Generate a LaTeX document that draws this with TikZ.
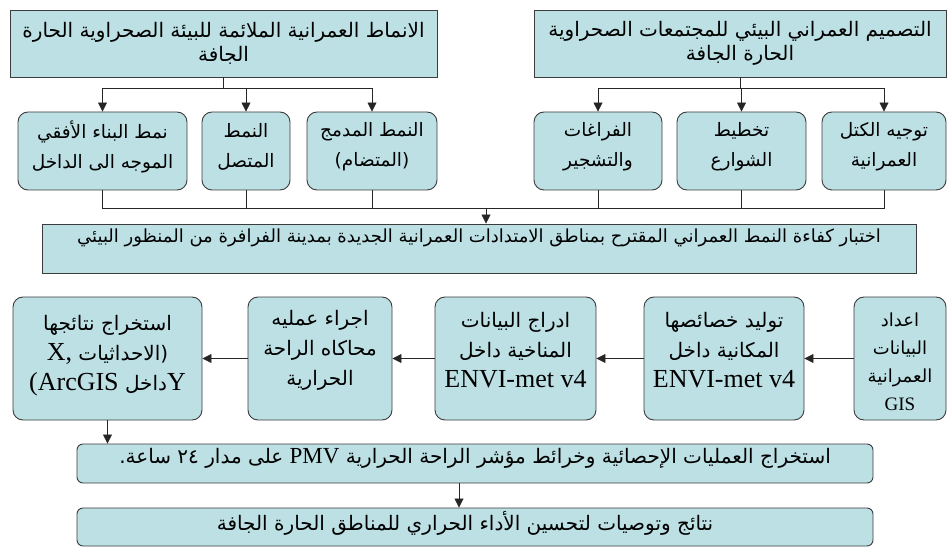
\documentclass[tikz,border=0pt]{standalone}
\usepackage{fontspec}
\setmainfont{Liberation Serif}
\newfontfamily\arfont[Script=Arabic]{DejaVu Sans}
\TeXXeTstate=1
\newcommand\lat[1]{{\fontsize{26}{30}\selectfont\rmfamily #1}}
\usetikzlibrary{arrows.meta,calc}
\definecolor{boxfill}{RGB}{188,224,228}
\definecolor{boxline}{RGB}{60,60,60}
\tikzset{
  sqbox/.style={draw=boxline, fill=boxfill, line width=0.9pt, inner sep=0pt, align=center},
  rbox/.style={sqbox, rounded corners=10pt},
  conn/.style={draw=black!85, line width=0.8pt},
  arr/.style={conn, -{Triangle[length=9pt,width=9pt]}},
  topfont/.style={font=\fontsize{20}{24}\selectfont\arfont},
  midfont/.style={font=\fontsize{18.5}{30}\selectfont\arfont},
  lowfont/.style={font=\fontsize{20}{30}\selectfont\arfont},
}
\begin{document}
\begin{tikzpicture}[x=1pt,y=-1pt]
\useasboundingbox (0,0) rectangle (948,548);
% top boxes
\node[sqbox, topfont, minimum width=427, minimum height=67] (TL) at (223.5,43.5)
  {\beginR الانماط العمرانية الملائمة للبيئة الصحراوية الحارة\endR\\\beginR الجافة\endR};
\node[sqbox, topfont, minimum width=412, minimum height=67] (TR) at (740,43.5)
  {\beginR التصميم العمراني البيئي للمجتمعات الصحراوية\endR\\\beginR الحارة الجافة\endR};
% second row
\node[rbox, minimum width=169, minimum height=78, label={[midfont,align=center,yshift=4pt]center:\beginR نمط البناء الأفقي\endR\\\beginR الموجه الى الداخل\endR}] (b1) at (102.5,151) {};
\node[rbox, minimum width=88, minimum height=78, label={[midfont,align=center,yshift=4pt]center:\beginR النمط\endR\\\beginR المتصل\endR}] (b2) at (246,151) {};
\node[rbox, minimum width=130, minimum height=78, label={[midfont,align=center,yshift=4pt]center:\beginR النمط المدمج\endR\\\beginR (المتضام)\endR}] (b3) at (372,151) {};
\node[rbox, minimum width=128, minimum height=78, label={[midfont,align=center,yshift=4pt]center:\beginR الفراغات\endR\\\beginR والتشجير\endR}] (b4) at (598,151) {};
\node[rbox, minimum width=129, minimum height=78, label={[midfont,align=center,yshift=4pt]center:\beginR تخطيط\endR\\\beginR الشوارع\endR}] (b5) at (741.5,151) {};
\node[rbox, minimum width=124, minimum height=78, label={[midfont,align=center,yshift=4pt]center:\beginR توجيه الكتل\endR\\\beginR العمرانية\endR}] (b6) at (884,151) {};
% middle box
\node[sqbox, minimum width=874, minimum height=49, label={[font=\fontsize{18}{24}\selectfont\arfont,yshift=11pt]center:\beginR اختبار كفاءة النمط العمراني المقترح بمناطق الامتدادات العمرانية الجديدة بمدينة الفرافرة من المنظور البيئي\endR}] (M) at (479,248.5) {};
% bottom row
\node[rbox, minimum width=189, minimum height=123, label={[lowfont,align=center,yshift=3pt]center:\beginR استخراج نتائجها\endR\\\lat{X,}~\beginR (الاحداثيات\endR\\\lat{(ArcGIS}~\beginR داخل\endR\lat{Y}}] (A) at (107.5,358.5) {};
\node[rbox, minimum width=144, minimum height=123, label={[lowfont,align=center,yshift=8pt]center:\beginR اجراء عمليه\endR\\\beginR محاكاه الراحة\endR\\\beginR الحرارية\endR}] (B) at (320,358.5) {};
\node[rbox, minimum width=161, minimum height=123, label={[lowfont,align=center,yshift=8pt]center:\beginR ادراج البيانات\endR\\\beginR المناخية داخل\endR\\\lat{ENVI-met v4}}] (C) at (515.5,358.5) {};
\node[rbox, minimum width=160, minimum height=123, label={[lowfont,align=center,yshift=8pt]center:\beginR توليد خصائصها\endR\\\beginR المكانية داخل\endR\\\lat{ENVI-met v4}}] (D) at (724,358.5) {};
\node[rbox, minimum width=92, minimum height=123, label={[font=\fontsize{18}{28}\selectfont\arfont,align=center,yshift=-3pt]center:\beginR اعداد\endR\\\beginR البيانات\endR\\\beginR العمرانية\endR\\{\fontsize{19}{28}\selectfont\rmfamily GIS}}] (E) at (900,358.5) {};
% PMV and final
\node[sqbox, rounded corners=6pt, minimum width=796, minimum height=39, label={[font=\fontsize{20}{24}\selectfont\arfont,yshift=5pt]center:\beginR استخراج العمليات الإحصائية وخرائط مؤشر الراحة الحرارية {\fontsize{23}{24}\selectfont\rmfamily PMV} على مدار  ٢٤ ساعة.\endR}] (P) at (475,463.5) {};
\node[sqbox, rounded corners=6pt, minimum width=796, minimum height=38, label={[font=\fontsize{20}{24}\selectfont\arfont,yshift=4pt,xshift=-10pt]center:\beginR نتائج وتوصيات لتحسين الأداء الحراري للمناطق الحارة الجافة\endR}] (F) at (475,527) {};
% connectors top
\draw[arr] (TL.south) -- ++(0,11) -| (b1.north);
\draw[arr] (TL.south) -- ++(0,11) -| (b2.north);
\draw[arr] (TL.south) -- ++(0,11) -| (b3.north);
\draw[arr] (TR.south) -- ++(0,11) -| (b4.north);
\draw[arr] (TR.south) -- ++(0,11) -| (b5.north);
\draw[arr] (TR.south) -- ++(0,11) -| (b6.north);
% connectors row 2 to middle
\draw[conn] (b1.south) -- ++(0,18) -| (b6.south);
\draw[conn] (b2.south) -- ++(0,18);
\draw[conn] (b3.south) -- ++(0,18);
\draw[conn] (b4.south) -- ++(0,18);
\draw[conn] (b5.south) -- ++(0,18);
\coordinate (mj) at (486,208);
\draw[arr] (mj) -- (mj |- M.north);
% bottom row arrows
\draw[arr] (E.west) -- (D.east);
\draw[arr] (D.west) -- (C.east);
\draw[arr] (C.west) -- (B.east);
\draw[arr] (B.west) -- (A.east);
\draw[arr] (A.south) -- (A.south |- P.north);
\draw[arr] ($(P.south)+(-16,0)$) -- ($(F.north)+(-16,0)$);
\end{tikzpicture}
\end{document}
